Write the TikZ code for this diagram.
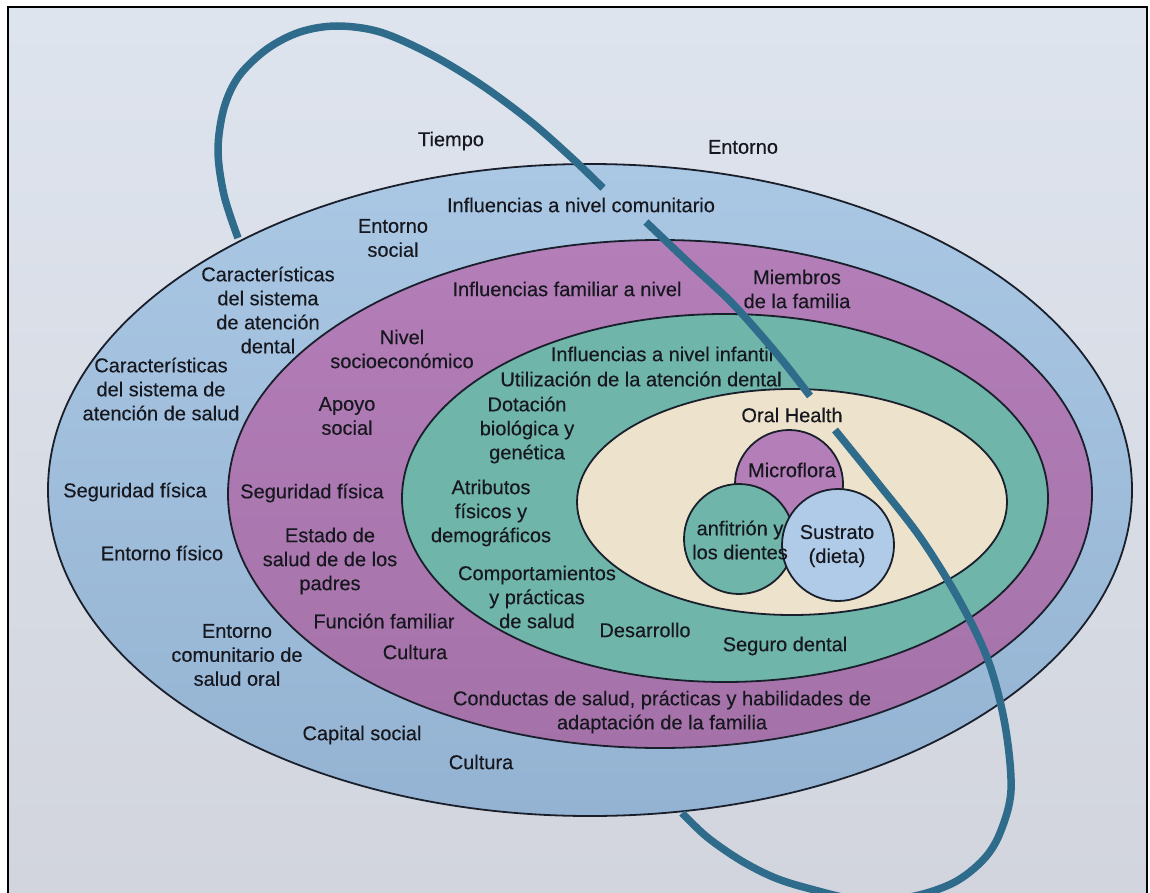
\documentclass[tikz,border=0pt]{standalone}
\usepackage{fontspec}
\setmainfont{Liberation Sans}
\newfontfamily\lblfont{Liberation Sans}[FakeBold=0.3]
\definecolor{papert}{HTML}{DEE4EE}
\definecolor{paperb}{HTML}{D2D5DD}
\definecolor{bandblue}{HTML}{AAC8E4}
\definecolor{bandblueb}{HTML}{94B3D2}
\definecolor{bandpurple}{HTML}{B47EB8}
\definecolor{bandpurpleb}{HTML}{A472A9}
\definecolor{bandteal}{HTML}{6FB5A9}
\definecolor{cream}{HTML}{EDE3CC}
\definecolor{subblue}{HTML}{AFCBE7}
\definecolor{edge}{HTML}{1A1F2C}
\definecolor{orbit}{HTML}{2F6B8B}
\definecolor{ink}{HTML}{17181F}
\tikzset{
  band/.style={draw=edge, line width=1.8},
  lbl/.style={font=\lblfont\fontsize{20}{24}\selectfont, text=ink, align=center, inner sep=0pt},
  orbitline/.style={draw=orbit, line width=7.5, line cap=butt, line join=round},
}
\begin{document}
\begin{tikzpicture}[x=1pt, y=-1pt]
\useasboundingbox (0,0) rectangle (1150,893);
\clip (0,0) rectangle (1150,893);
% page
\fill[white] (0,0) rectangle (1150,893);
\shade[top color=papert, bottom color=paperb] (8,7) rectangle (1147,893);
\draw[black, line width=2] (8,895) -- (8,7) -- (1147,7) -- (1147,895);
% bands
\shadedraw[band, top color=bandblue, bottom color=bandblueb] (590,490) ellipse [x radius=542, y radius=326];
\shadedraw[band, top color=bandpurple, bottom color=bandpurpleb] (660,494) ellipse [x radius=432, y radius=254];
\filldraw[band, fill=bandteal] (725,498) ellipse [x radius=323, y radius=184];
\filldraw[band, fill=cream] (792,502) ellipse [x radius=215, y radius=113];
% oral health circles
\filldraw[band, fill=bandpurple] (789,484) circle [radius=54];
\filldraw[band, fill=bandteal] (739,539) circle [radius=55];
\filldraw[band, fill=subblue] (838,545) circle [radius=56];
% labels
\node[lbl] (tiempo) at (451,141) {Tiempo};
\node[lbl] (entorno) at (743,147) {Entorno};
\node[lbl] (comun) at (581,205) {Influencias a nivel comunitario};
\node[lbl] (esocial) at (393,238) {Entorno\\social};
\node[lbl] (csad) at (268,310) {Características\\del sistema\\de atención\\dental};
\node[lbl] (familiar) at (567,289) {Influencias familiar a nivel};
\node[lbl] (miembros) at (797,289) {Miembros\\de la familia};
\node[lbl] (nivel) at (402,349) {Nivel\\socioeconómico};
\node[lbl] (cssalud) at (161,389) {Características\\del sistema de\\atención de salud};
\node[lbl] (apoyo) at (347,416) {Apoyo\\social};
\node[lbl] (infantil) at (662,354) {Influencias a nivel infantil};
\node[lbl] (util) at (641,379) {Utilización de la atención dental};
\node[lbl] (dotacion) at (527,430) {Dotación\\biológica y\\genética};
\node[lbl] (oral) at (792,415) {Oral Health};
\node[lbl] (micro) at (792,470) {Microflora};
\node[lbl] (anf) at (740,540) {anfitrión y\\los dientes};
\node[lbl] (sust) at (837,546) {Sustrato\\(dieta)};
\node[lbl] (segb) at (135,492) {Seguridad física};
\node[lbl] (segp) at (312,493) {Seguridad física};
\node[lbl] (atrib) at (491,513) {Atributos\\físicos y\\demográficos};
\node[lbl] (efis) at (162,553) {Entorno físico};
\node[lbl] (estado) at (330,561) {Estado de\\salud de de los\\padres};
\node[lbl] (comp) at (537,597) {Comportamientos\\y prácticas\\de salud};
\node[lbl] (funcion) at (384,621) {Función familiar};
\node[lbl] (desarrollo) at (645,630) {Desarrollo};
\node[lbl] (seguro) at (785,646) {Seguro dental};
\node[lbl] (ecom) at (237,655) {Entorno\\comunitario de\\salud oral};
\node[lbl] (cult1) at (415,652) {Cultura};
\node[lbl] (conductas) at (662,712) {Conductas de salud, prácticas y habilidades de\\adaptación de la familia};
\node[lbl] (capital) at (362,735) {Capital social};
\node[lbl] (cult2) at (481,762) {Cultura};
% time orbit
\draw[orbitline] plot[smooth, tension=0.55] coordinates {(238,238) (224,195) (218,150) (224,108) (239,76) (267,49) (300,32) (337,26) (380,32) (430,54) (480,84) (530,121) (573,159) (603,188)};
\draw[orbitline] plot[smooth, tension=0.55] coordinates {(646,222) (688,262) (729,300) (760,334) (786,365) (810,396)};
\draw[orbitline] plot[smooth, tension=0.55] coordinates {(835,430) (877,482) (920,537) (958,598) (988,660) (1005,725) (1011,790) (1000,833) (983,860) (953,883) (910,897) (860,900) (807,888) (773,877) (740,860) (707,837) (682,813)};
\end{tikzpicture}
\end{document}
